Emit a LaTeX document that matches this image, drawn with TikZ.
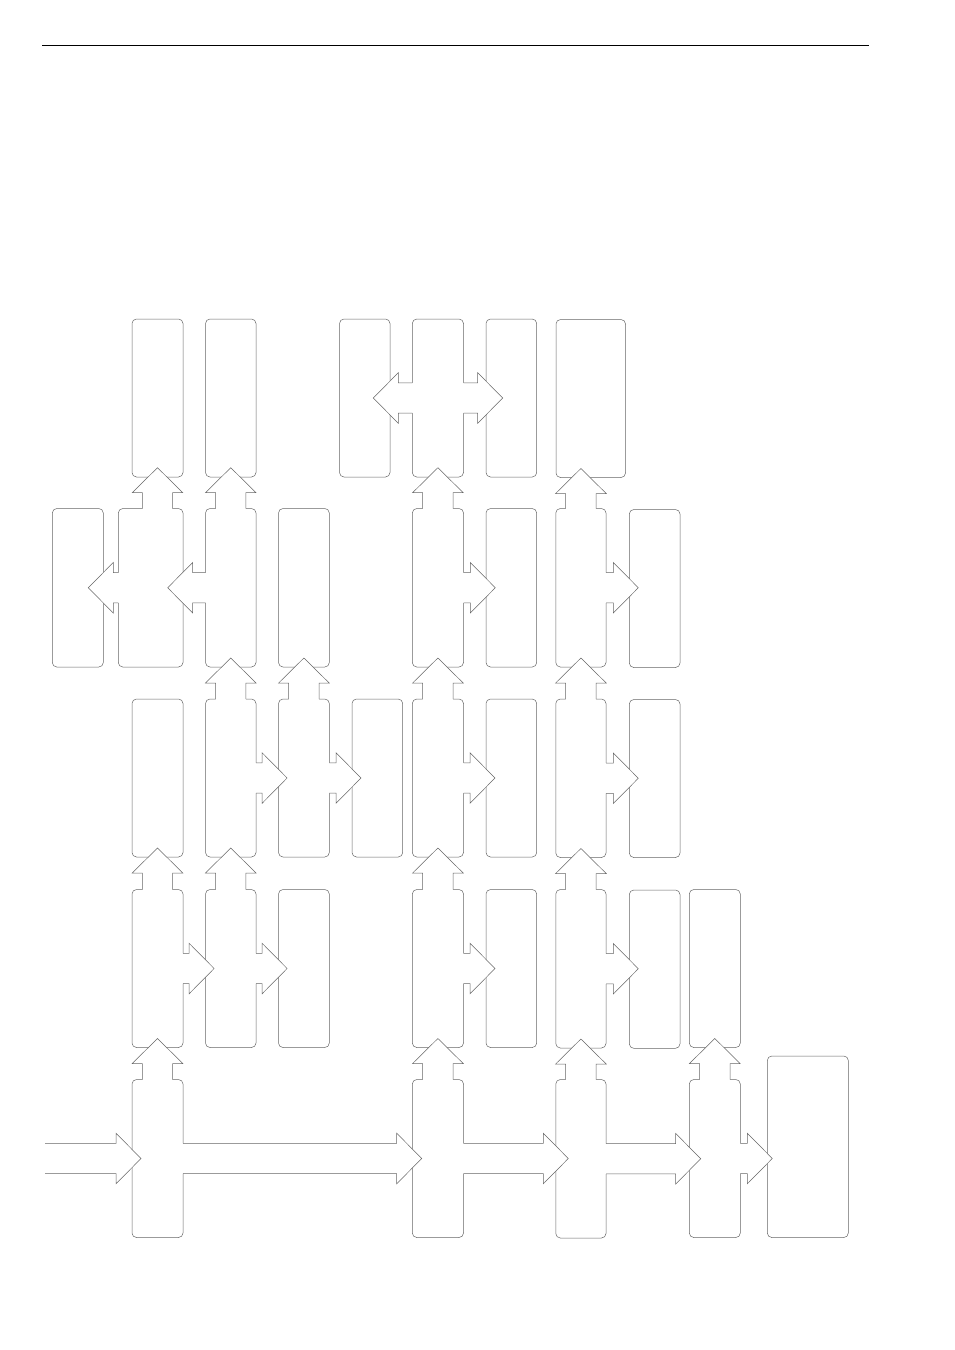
\documentclass[tikz,border=0pt]{standalone}
\usetikzlibrary{calc}
\tikzset{
  box/.style={draw=black!60, fill=white, line width=0.5pt, rounded corners=4.5pt,
    inner sep=0pt, outer sep=0pt, rectangle},
  arrline/.style={draw=black!60, line width=0.5pt, line join=miter},
  rule/.style={draw=black, line width=0.9pt}
}
% box: name, x1, x2, y1, y2 (pixel coordinates, y downwards)
\newcommand\bx[5]{%
  \pgfmathsetmacro\bxcx{(#2+#3)/2}\pgfmathsetmacro\bxcy{-(#4+#5)/2}%
  \pgfmathsetmacro\bxw{#3-#2}\pgfmathsetmacro\bxh{#5-#4}%
  \node[box, minimum width=\bxw pt, minimum height=\bxh pt] (#1) at (\bxcx,\bxcy) {};}
% right block arrow: start point, tip point (y taken from start)
\newcommand\arrR[2]{%
  \fill[white] let \p1=(#1), \p2=(#2) in
    (\x1-1.5,\y1+15.2) -- (\x2-25,\y1+15.2) -- (\x2-25,\y1+25.3) -- (\x2,\y1)
    -- (\x2-25,\y1-25.3) -- (\x2-25,\y1-15.2) -- (\x1-1.5,\y1-15.2) -- cycle;
  \draw[arrline] let \p1=(#1), \p2=(#2) in
    (\x1,\y1+15.2) -- (\x2-25,\y1+15.2) -- (\x2-25,\y1+25.3) -- (\x2,\y1)
    -- (\x2-25,\y1-25.3) -- (\x2-25,\y1-15.2) -- (\x1,\y1-15.2);}
% left block arrow
\newcommand\arrL[2]{%
  \fill[white] let \p1=(#1), \p2=(#2) in
    (\x1+1.5,\y1+15.2) -- (\x2+25,\y1+15.2) -- (\x2+25,\y1+25.3) -- (\x2,\y1)
    -- (\x2+25,\y1-25.3) -- (\x2+25,\y1-15.2) -- (\x1+1.5,\y1-15.2) -- cycle;
  \draw[arrline] let \p1=(#1), \p2=(#2) in
    (\x1,\y1+15.2) -- (\x2+25,\y1+15.2) -- (\x2+25,\y1+25.3) -- (\x2,\y1)
    -- (\x2+25,\y1-25.3) -- (\x2+25,\y1-15.2) -- (\x1,\y1-15.2);}
% up block arrow (x taken from tip)
\newcommand\arrU[2]{%
  \fill[white] let \p1=(#1), \p2=(#2) in
    (\x2-15.2,\y1-1.5) -- (\x2-15.2,\y2-25) -- (\x2-25.3,\y2-25) -- (\x2,\y2)
    -- (\x2+25.3,\y2-25) -- (\x2+15.2,\y2-25) -- (\x2+15.2,\y1-1.5) -- cycle;
  \draw[arrline] let \p1=(#1), \p2=(#2) in
    (\x2-15.2,\y1) -- (\x2-15.2,\y2-25) -- (\x2-25.3,\y2-25) -- (\x2,\y2)
    -- (\x2+25.3,\y2-25) -- (\x2+15.2,\y2-25) -- (\x2+15.2,\y1);}

\begin{document}
\begin{tikzpicture}[x=1pt,y=1pt]
\useasboundingbox (0,0) rectangle (954,-1350);
\fill[white] (0,0) rectangle (954,-1350);
% top rule
\coordinate (ruleL) at (42,-45);
\coordinate (ruleR) at (869,-45);
\draw[rule] (ruleL) -- (ruleR);

% row 1
\bx{a1}{132}{183}{319}{477}
\bx{b1}{205.5}{256}{319}{477}
\bx{e1}{339.5}{390}{319}{477}
\bx{f1}{412.3}{463.5}{319}{477}
\bx{g1}{486}{536.7}{319}{477}
\bx{w1}{556}{625.5}{319.5}{477.5}
% row 2
\bx{l2}{52.3}{103.3}{508.5}{667}
\bx{w2}{118.3}{183}{508.5}{667}
\bx{b2}{205.5}{256}{508.5}{667}
\bx{c2}{278.5}{329.3}{508.5}{667}
\bx{f2}{412.3}{463.5}{508.5}{667}
\bx{g2}{486}{536.7}{508.5}{667}
\bx{h2}{555.8}{606}{508.5}{667}
\bx{i2}{629.3}{680}{509.5}{667.5}
% row 3
\bx{a3}{132}{183}{699}{857}
\bx{b3}{205.5}{256}{699}{857}
\bx{c3}{278.5}{329.3}{699}{857}
\bx{d3}{352}{402.7}{699}{857}
\bx{f3}{412.3}{463.5}{699}{857}
\bx{g3}{486}{536.7}{699}{857}
\bx{h3}{555.8}{606}{699}{857.5}
\bx{i3}{629.3}{680}{699.5}{857.5}
% row 4
\bx{a4}{132}{183}{889.5}{1047.5}
\bx{b4}{205.5}{256}{889.5}{1047.5}
\bx{c4}{278.5}{329.3}{889.5}{1047.5}
\bx{f4}{412.3}{463.5}{889.5}{1047.5}
\bx{g4}{486}{536.7}{889.5}{1047.5}
\bx{h4}{555.8}{606}{889.5}{1048}
\bx{i4}{629.3}{680}{890}{1048.3}
\bx{j4}{689.3}{740.3}{889.5}{1047.5}
% row 5
\bx{a5}{132}{183}{1079.5}{1237.5}
\bx{f5}{412.3}{463.5}{1079.5}{1237.5}
\bx{h5}{555.8}{606}{1079.5}{1238}
\bx{j5}{689.3}{740.3}{1079.5}{1237.5}
\bx{big}{767.3}{848.3}{1056}{1237.5}
\coordinate (in) at (45,-1158.5);

% up arrows
\arrU{a5.north}{$(a4.south)+(0,9)$}
\arrU{f5.north}{$(f4.south)+(0,9)$}
\arrU{h5.north}{$(h4.south)+(0,9)$}
\arrU{j5.north}{$(j4.south)+(0,9)$}
\arrU{a4.north}{$(a3.south)+(0,9)$}
\arrU{b4.north}{$(b3.south)+(0,9)$}
\arrU{f4.north}{$(f3.south)+(0,9)$}
\arrU{h4.north}{$(h3.south)+(0,9)$}
\arrU{b3.north}{$(b2.south)+(0,9)$}
\arrU{c3.north}{$(c2.south)+(0,9)$}
\arrU{f3.north}{$(f2.south)+(0,9)$}
\arrU{h3.north}{$(h2.south)+(0,9)$}
\arrU{w2.north}{$(a1.south)+(0,9.3)$}
\arrU{b2.north}{$(b1.south)+(0,9.3)$}
\arrU{f2.north}{$(f1.south)+(0,9.3)$}
\arrU{h2.north}{$(w1.south -| h2.north)+(0,9)$}

% right arrows
\arrR{in}{$(a5.west)+(9,0)$}
\arrR{a5.east}{$(f5.west)+(9.4,0)$}
\arrR{f5.east}{$(h5.west)+(12.5,0)$}
\arrR{h5.east}{$(j5.west)+(11.4,0)$}
\arrR{j5.east}{$(big.west)+(5,0)$}
\arrR{a4.east}{$(b4.west)+(8.6,0)$}
\arrR{b4.east}{$(c4.west)+(8.6,0)$}
\arrR{f4.east}{$(g4.west)+(9,0)$}
\arrR{h4.east}{$(i4.west)+(9,0)$}
\arrR{b3.east}{$(c3.west)+(8.6,0)$}
\arrR{c3.east}{$(d3.west)+(9,0)$}
\arrR{f3.east}{$(g3.west)+(9,0)$}
\arrR{h3.east}{$(i3.west)+(9,0)$}
\arrR{f2.east}{$(g2.west)+(9.3,0)$}
\arrR{h2.east}{$(i2.west)+(9,0)$}
\arrR{f1.east}{$(g1.west)+(16.7,0)$}

% left arrows
\arrL{w2.west}{$(l2.east)+(-15,0)$}
\arrL{b2.west}{$(w2.east)+(-15.3,0)$}
\arrL{f1.west}{$(e1.east)+(-16.7,0)$}
\end{tikzpicture}
\end{document}
